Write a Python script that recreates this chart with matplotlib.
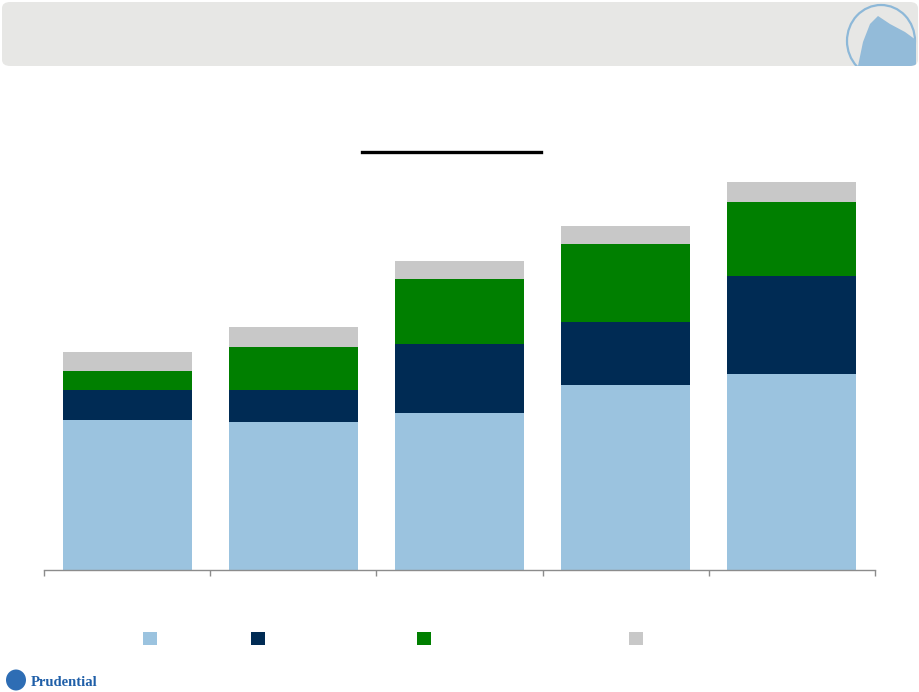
import matplotlib
matplotlib.use("Agg")
import matplotlib.pyplot as plt
from matplotlib.patches import FancyBboxPatch, Rectangle, Ellipse, Polygon
import numpy as np

# ---- data (arbitrary units) ----
categories = ["", "", "", "", ""]
series_names = ["", "", "", ""]
light_vals = [150, 148, 157, 185, 196]
navy_vals = [30, 32, 69, 63, 98]
green_vals = [19, 43, 65, 78, 74]
gray_vals = [19, 20, 18, 18, 20]

colors = ["#9bc3df", "#002b54", "#007f00", "#c8c8c8"]

W, H = 920, 692
fig = plt.figure(figsize=(W / 100, H / 100), dpi=100)
fig.patch.set_facecolor("white")

def fx(px):
    return px / W

def fy(py):
    return 1 - py / H

# header banner
banner = FancyBboxPatch((fx(2), fy(66)), fx(916), 64 / H,
                        boxstyle="round,pad=0,rounding_size=0.009",
                        transform=fig.transFigure, facecolor="#e7e7e5",
                        edgecolor="none", zorder=0)
fig.patches.append(banner)
# logo in the banner (rock emblem, simplified)
emb = Ellipse((fx(881), fy(41)), fx(68), 72 / H, transform=fig.transFigure,
              facecolor="none", edgecolor="#8db8d8", lw=1.6, zorder=1)
fig.patches.append(emb)
emb.set_clip_path(banner)
rock = Polygon([(fx(858), fy(66)), (fx(863), fy(42)), (fx(870), fy(24)), (fx(878), fy(16)),
                (fx(890), fy(24)), (fx(905), fy(32)), (fx(916), fy(40)), (fx(916), fy(66))],
               closed=True, transform=fig.transFigure, facecolor="#93bbd9",
               edgecolor="none", zorder=1)
fig.patches.append(rock)
rock.set_clip_path(banner)

# title underline
fig.add_artist(plt.Line2D([fx(362), fx(541)], [fy(152), fy(152)],
                          transform=fig.transFigure, color="black", lw=2.4))

# main axes
left, right, bottom, top = 44, 875, 570, 170
ax = fig.add_axes([fx(left), fy(bottom), fx(right - left), (bottom - top) / H])
x = np.arange(len(light_vals))
bw = 0.776
stack = [light_vals, navy_vals, green_vals, gray_vals]
base = np.zeros(len(x))
for vals, c, name in zip(stack, colors, series_names):
    ax.bar(x, vals, bw, bottom=base, color=c, edgecolor="none", label=name, zorder=2)
    base = base + np.array(vals)

ax.set_xlim(-0.5, len(x) - 0.5)
ax.set_ylim(0, bottom - top)
for s in ["top", "right", "left"]:
    ax.spines[s].set_visible(False)
ax.spines["bottom"].set_color("#8c8c8c")
ax.spines["bottom"].set_linewidth(1.0)
ax.set_yticks([])
ax.set_xticks(np.arange(-0.5, len(x), 1.0))
ax.set_xticklabels([])
ax.tick_params(axis="x", direction="out", length=4, color="#8c8c8c", width=1.0)
ax.set_facecolor("none")

# legend swatches (labels absent in the reference)
legend_x = [143, 251, 417, 629]
for lx, c in zip(legend_x, colors):
    fig.patches.append(Rectangle((fx(lx), fy(645)), fx(14), 13 / H,
                                 transform=fig.transFigure, facecolor=c, edgecolor="none"))

# footer logo
fig.patches.append(Ellipse((fx(16), fy(680)), fx(20), 21 / H, transform=fig.transFigure,
                           facecolor="#2e6db4", edgecolor="none"))
fig.text(fx(31), fy(682), "Prudential", family="Liberation Serif", fontweight="bold",
         fontsize=10.5, color="#1f5fa8", va="center", ha="left")

fig.savefig("out.png", dpi=100, facecolor="white")
